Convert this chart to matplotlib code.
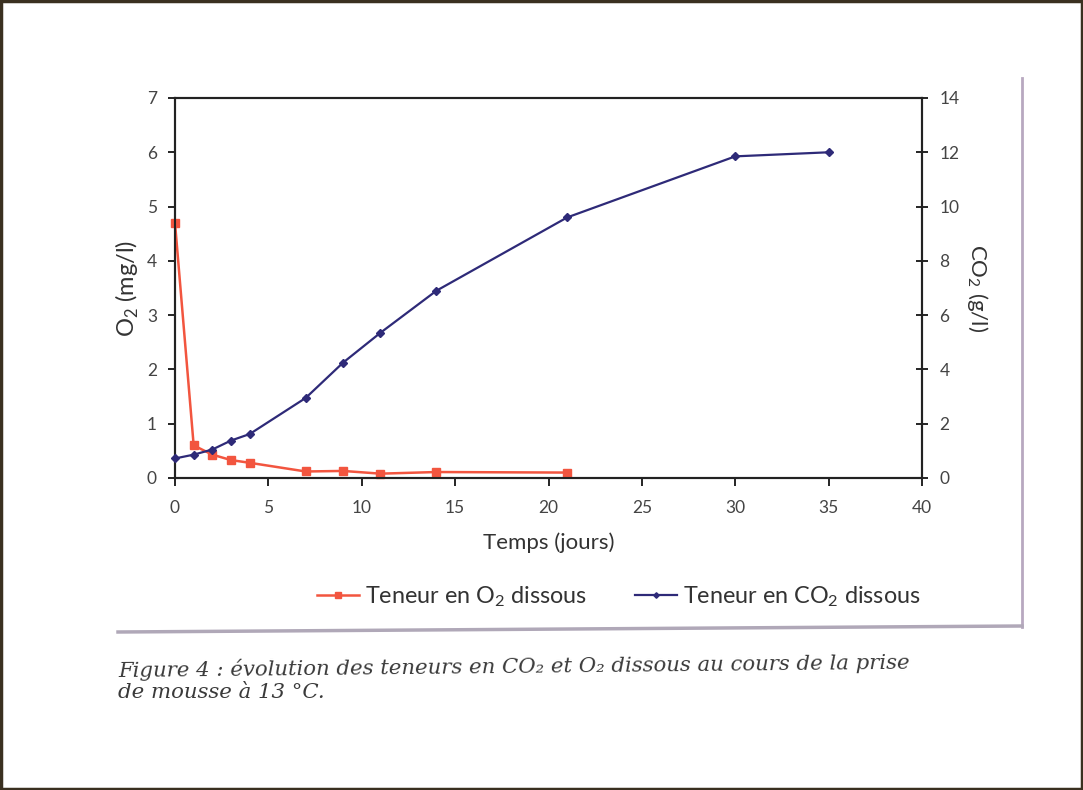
import matplotlib
matplotlib.use("Agg")
import matplotlib.pyplot as plt
from matplotlib.lines import Line2D
import numpy as np

# O2 dissous (mg/l)
jours_o2 = [0, 1, 2, 3, 4, 7, 9, 11, 14, 21]
o2 = [4.7, 0.6, 0.43, 0.33, 0.28, 0.12, 0.13, 0.08, 0.11, 0.1]

# CO2 dissous (g/l)
jours_co2 = [0, 1, 2, 3, 4, 7, 9, 11, 14, 21, 30, 35]
co2 = [0.72, 0.86, 1.05, 1.38, 1.62, 2.95, 4.25, 5.35, 6.9, 9.6, 11.85, 12.0]

x_ticks = [0, 5, 10, 15, 20, 25, 30, 35, 40]
o2_ticks = [0, 1, 2, 3, 4, 5, 6, 7]
co2_ticks = [0, 2, 4, 6, 8, 10, 12, 14]

RED = "#f2553f"
BLUE = "#2e2a78"
GREY = "#444444"

plt.rcParams["font.family"] = ["Lato", "DejaVu Sans"]
plt.rcParams["mathtext.fontset"] = "custom"
plt.rcParams["mathtext.rm"] = "Lato"

fig = plt.figure(figsize=(10.83, 7.90), dpi=100)
fig.patch.set_facecolor("white")

ax = fig.add_axes([175 / 1083, 1 - 478 / 790, 747 / 1083, 380 / 790])
ax2 = ax.twinx()

l1, = ax.plot(jours_o2, o2, color=RED, lw=1.8, marker="s", ms=6,
              markerfacecolor=RED, markeredgecolor=RED, zorder=3, clip_on=False)
l2, = ax2.plot(jours_co2, co2, color=BLUE, lw=1.6, marker="D", ms=4,
               markerfacecolor=BLUE, markeredgecolor=BLUE, zorder=3, clip_on=False)

ax.set_xlim(0, 40)
ax.set_ylim(0, 7)
ax2.set_ylim(0, 14)
ax.set_xticks(x_ticks)
ax.set_yticks(o2_ticks)
ax2.set_yticks(co2_ticks)

for a in (ax, ax2):
    for s in a.spines.values():
        s.set_linewidth(1.5)
        s.set_color("#222222")

ax.tick_params(axis="x", direction="out", length=6, width=1.2,
               labelsize=12.5, labelcolor=GREY, pad=10)
ax.tick_params(axis="y", direction="out", length=5, width=1.2,
               labelsize=12.5, labelcolor=GREY, pad=8)
ax2.tick_params(axis="y", direction="inout", length=9, width=1.2,
                labelsize=12.5, labelcolor=GREY, pad=8)

ax.set_xlabel("Temps (jours)", fontsize=16, color="#333333", labelpad=12)
ax.set_ylabel("O$_2$ (mg/l)", fontsize=17, color="#333333", labelpad=4)
ax2.set_ylabel("CO$_2$ (g/l)", fontsize=16, color="#333333",
               rotation=-90, labelpad=22)

fig.legend([l1, l2], ["Teneur en O$_2$ dissous", "Teneur en CO$_2$ dissous"],
           loc="center", bbox_to_anchor=(0.5715, 1 - 597 / 790), ncol=2,
           frameon=False, fontsize=16.8, handlelength=1.8, columnspacing=2.05,
           handletextpad=0.25, markerscale=0.7, labelcolor="#333333")

# cadre du graphique d'origine
fig.add_artist(Line2D([1022 / 1083, 1022 / 1083], [1 - 78 / 790, 1 - 627 / 790],
                      color="#b8a8c0", lw=2))
fig.add_artist(Line2D([118 / 1083, 1022 / 1083], [1 - 632 / 790, 1 - 626 / 790],
                      color="#b0a8b8", lw=2.5))

# bordure de l'image
fig.add_artist(plt.Rectangle((0.001, 0.001), 0.998, 0.998, transform=fig.transFigure,
                             fill=False, edgecolor="#3a3020", lw=2.5))

caption_font = ["DejaVu Serif"]
fig.text(118 / 1083, 1 - 666 / 790,
         "Figure 4 : évolution des teneurs en CO₂ et O₂ dissous au cours de la prise",
         family=caption_font, style="italic", fontsize=15.3, color="#3a3a3a",
         va="center", rotation=0.6)
fig.text(118 / 1083, 1 - 692 / 790, "de mousse à 13 °C.",
         family=caption_font, style="italic", fontsize=15.3, color="#3a3a3a",
         va="center")

fig.savefig("out.png", dpi=100, facecolor="white")
